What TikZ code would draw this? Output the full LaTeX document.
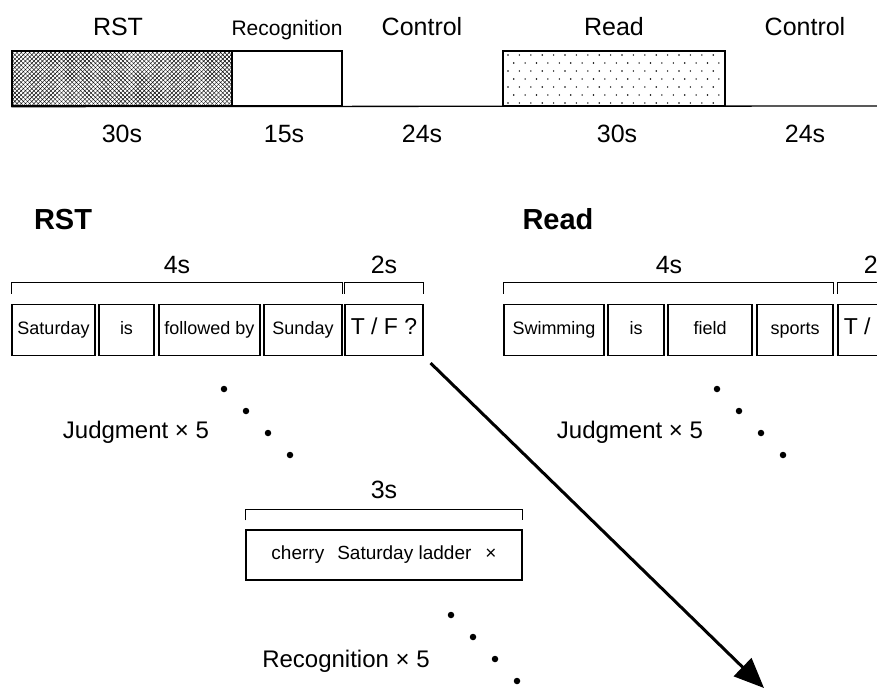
\documentclass[tikz,border=0pt]{standalone}
\usepackage{fontspec}
\setmainfont{Liberation Sans}
\usetikzlibrary{arrows.meta,patterns.meta}

\tikzset{
  toplabel/.style={anchor=base,inner sep=0pt,font=\fontsize{25}{28}\selectfont},
  phasebar/.style={draw,line width=1.3pt,inner sep=0pt,minimum height=55pt},
  wordbox/.style={draw,line width=1.2pt,inner sep=0pt,minimum height=51pt,
    text height=13pt,text depth=4pt,font=\fontsize{18}{20}\selectfont},
  durbracket/.style={line width=1pt},
  trialdot/.style={circle,fill,inner sep=0pt,minimum size=6.5pt}
}

\begin{document}
\begin{tikzpicture}[x=1pt,y=-1pt]
\useasboundingbox (0,0) rectangle (877,689);

% block design
\node[phasebar,minimum width=220pt,
  postaction={pattern={Lines[angle=45,distance=3pt,line width=0.45pt]}},
  postaction={pattern={Lines[angle=-45,distance=3pt,line width=0.45pt]}}] (rstbar) at (122,78.5) {};
\node[phasebar,minimum width=110pt] (recbar) at (287,78.5) {};
\node[phasebar,minimum width=222pt] (readbar) at (614,78.5) {};
\foreach \r in {0,...,6}
  \foreach \c in {0,...,18}
    \fill ({508+11.4*\c+5.7*mod(\r,2)},{55+8*\r}) circle (0.8pt);
\draw[line width=1.3pt] (rstbar.south west) -- (877,106);

\node[toplabel] (rstlab) at (118,35) {RST};
\node[toplabel,font=\fontsize{21}{24}\selectfont] (reclab) at (287,35) {Recognition};
\node[toplabel] (ctrlab) at (422,35) {Control};
\node[toplabel] (readlab) at (614,35) {Read};
\node[toplabel] (ctrlabb) at (805,35) {Control};

\node[toplabel] (rstdur) at (122,142) {30s};
\node[toplabel] (recdur) at (284,142) {15s};
\node[toplabel] (ctrdur) at (422,142) {24s};
\node[toplabel] (readdur) at (617,142) {30s};
\node[toplabel] (ctrdurb) at (805,142) {24s};

% trial headings
\node[toplabel,font=\fontsize{29}{32}\selectfont\bfseries] (rsthead) at (63,229) {RST};
\node[toplabel,font=\fontsize{29}{32}\selectfont\bfseries] (readhead) at (558,229) {Read};

% RST trial
\node[wordbox,minimum width=83pt] (sat) at (53.5,330) {Saturday};
\node[wordbox,minimum width=55pt] (is) at (126.5,330) {is};
\node[wordbox,minimum width=101pt] (fol) at (209.5,330) {followed by};
\node[wordbox,minimum width=78pt] (sun) at (303,330) {Sunday};
\node[wordbox,minimum width=78pt,font=\fontsize{23}{26}\selectfont] (tf) at (384,330) {T / F ?};
\draw[durbracket] ([yshift=10pt]sat.north west) |- ([yshift=21pt]sun.north east) -- ([yshift=10pt]sun.north east);
\draw[durbracket] ([yshift=10pt]tf.north west) |- ([yshift=21pt]tf.north east) -- ([yshift=10pt]tf.north east);
\node[toplabel] (fourlab) at (177,273) {4s};
\node[toplabel] (twolab) at (384,273) {2s};

% Read trial
\node[wordbox,minimum width=100pt] (swim) at (554,330) {Swimming};
\node[wordbox,minimum width=56pt] (isb) at (636,330) {is};
\node[wordbox,minimum width=84pt] (field) at (710,330) {field};
\node[wordbox,minimum width=76pt] (sports) at (795,330) {sports};
\node[wordbox,minimum width=78pt,font=\fontsize{23}{26}\selectfont] (tfb) at (877,330) {T / F ?};
\draw[durbracket] ([yshift=10pt]swim.north west) |- ([yshift=21pt]sports.north east) -- ([yshift=10pt]sports.north east);
\draw[durbracket] ([yshift=10pt]tfb.north west) |- ([yshift=21pt]tfb.north east) -- ([yshift=10pt]tfb.north east);
\node[toplabel] (fourlabb) at (669,273) {4s};
\node[toplabel] (twolabb) at (877,273) {2s};

% repetitions
\foreach \i in {0,...,3} {
  \node[trialdot] (jdot\i) at (224+22*\i,389+22*\i) {};
  \node[trialdot] (jdotb\i) at (717+22*\i,389+22*\i) {};
  \node[trialdot] (rdot\i) at (451+22*\i,615+22*\i) {};
}
\node[toplabel,font=\fontsize{24}{27}\selectfont] (judg) at (136,438) {Judgment × 5};
\node[toplabel,font=\fontsize{24}{27}\selectfont] (judgb) at (630,438) {Judgment × 5};

% recognition probe
\node[wordbox,minimum width=276pt,minimum height=50pt,font=\fontsize{19}{22}\selectfont] (probe) at (384,555)
  {cherry\hspace{13pt}Saturday ladder\hspace{14pt}×};
\draw[durbracket] ([yshift=9pt]probe.north west) |- ([yshift=20pt]probe.north east) -- ([yshift=9pt]probe.north east);
\node[toplabel] (threelab) at (384,498) {3s};
\node[toplabel,font=\fontsize{24}{27}\selectfont] (recrep) at (346,667) {Recognition × 5};

\coordinate (arrowtip) at (764,688);
\draw[line width=3pt,-{Triangle[length=30pt,width=25pt]}] ([shift={(7,7)}]tf.south east) -- (arrowtip);
\end{tikzpicture}
\end{document}
